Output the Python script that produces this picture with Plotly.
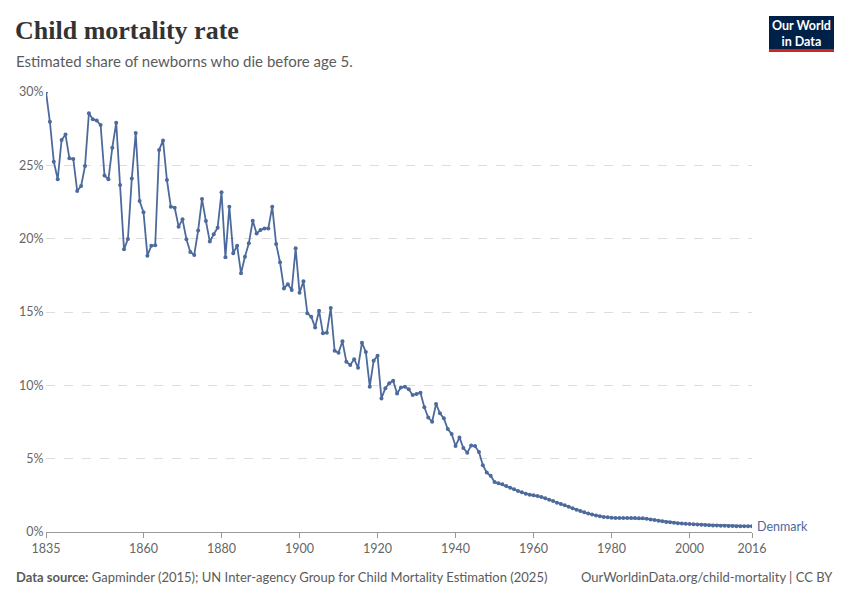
import plotly.graph_objects as go

# Denmark, share of children dying before age 5 (%), one value per year 1835-2016
years = list(range(1835, 2017))
mortality = [
    30.0, 27.97, 25.25, 24.05, 26.73, 27.1, 25.48, 25.43, 23.25, 23.59,   # 1835-1844
    24.95, 28.55, 28.14, 28.05, 27.75, 24.3, 24.05, 26.2, 27.9, 23.66,    # 1845-1854
    19.27, 19.98, 24.1, 27.2, 22.57, 21.8, 18.84, 19.52, 19.55, 26.05,    # 1855-1864
    26.7, 24.0, 22.18, 22.11, 20.82, 21.32, 19.96, 19.09, 18.89, 20.55,   # 1865-1874
    22.7, 21.2, 19.8, 20.3, 20.75, 23.16, 18.73, 22.18, 19.0, 19.52,      # 1875-1884
    17.64, 18.77, 19.68, 21.23, 20.36, 20.59, 20.7, 20.7, 22.18, 19.64,   # 1885-1894
    18.39, 16.61, 16.89, 16.5, 19.34, 16.32, 17.09, 14.91, 14.68, 13.95,  # 1895-1904
    15.09, 13.55, 13.59, 15.27, 12.36, 12.23, 13.0, 11.61, 11.39, 11.78,  # 1905-1914
    11.2, 12.91, 12.27, 9.91, 11.68, 12.02, 9.11, 9.8, 10.14, 10.32,      # 1915-1924
    9.45, 9.86, 9.91, 9.73, 9.34, 9.41, 9.5, 8.5, 7.8, 7.52,              # 1925-1934
    8.73, 8.09, 7.75, 7.02, 6.68, 5.86, 6.45, 5.73, 5.41, 5.89,           # 1935-1944
    5.86, 5.45, 4.55, 4.05, 3.84, 3.41, 3.32, 3.25, 3.14, 3.02,           # 1945-1954
    2.91, 2.8, 2.71, 2.61, 2.54, 2.5, 2.45, 2.39, 2.3, 2.2,               # 1955-1964
    2.11, 2.0, 1.91, 1.82, 1.73, 1.62, 1.52, 1.43, 1.34, 1.26,            # 1965-1974
    1.19, 1.12, 1.07, 1.03, 1.0, 0.97, 0.96, 0.95, 0.95, 0.95,            # 1975-1984
    0.95, 0.95, 0.94, 0.93, 0.9, 0.86, 0.82, 0.77, 0.73, 0.69,            # 1985-1994
    0.66, 0.63, 0.6, 0.58, 0.56, 0.55, 0.53, 0.51, 0.49, 0.47,            # 1995-2004
    0.46, 0.45, 0.44, 0.43, 0.42, 0.41, 0.41, 0.4, 0.4, 0.4,              # 2005-2014
    0.4, 0.4,                                                             # 2015-2016
]
country = "Denmark"

x_ticks = [1835, 1860, 1880, 1900, 1920, 1940, 1960, 1980, 2000, 2016]
y_ticks = [0, 5, 10, 15, 20, 25, 30]
y_labels = ["0%", "5%", "10%", "15%", "20%", "25%", "30%"]

# the page body has an 8px margin, so the figure is drawn 8px in from the corner;
# everything below is measured in window pixels and shifted by OFF
OFF = 8
W, H = 850 - OFF, 600 - OFF
L, R, T, B = 46 - OFF, 98, 92 - OFF, 68
PW, PH = W - L - R, H - T - B

LINE = "#4c6a9c"
GREY = "#5b5b5b"


def px(xp):
    return (xp - OFF - L) / PW


def py(yp):
    return (H - B - (yp - OFF)) / PH


fig = go.Figure()
fig.add_trace(go.Scatter(
    x=years, y=mortality, mode="lines+markers",
    line=dict(color=LINE, width=1.8),
    marker=dict(color=LINE, size=4),
    showlegend=False,
))

fig.update_layout(
    width=W, height=H,
    margin=dict(l=L, r=R, t=T, b=B),
    paper_bgcolor="white", plot_bgcolor="white",
    font=dict(family="Lato", color="#666"),
    xaxis=dict(
        range=[1835, 2016], tickvals=x_ticks, ticktext=[str(v) for v in x_ticks],
        showgrid=False, zeroline=False, showline=True, linecolor="#999", linewidth=1,
        ticks="outside", ticklen=5, tickcolor="#999", tickfont=dict(size=12.5, color="#666"),
    ),
    yaxis=dict(
        range=[0, 30], tickvals=y_ticks, ticktext=[t + "\u2009" for t in y_labels],
        showgrid=True, gridcolor="#dddddd", griddash="dash", gridwidth=1, automargin=False,
        zeroline=False, showline=False, ticks="", tickfont=dict(size=12.5, color="#666"),
    ),
)

ann = [
    dict(text="<b>Child mortality rate</b>", x=px(13), y=py(31), xanchor="left", yanchor="middle",
         font=dict(family="Liberation Serif", size=26, color="#333"), showarrow=False),
    dict(text="Estimated share of newborns who die before age 5.", x=px(14), y=py(61),
         xanchor="left", yanchor="middle", font=dict(size=15, color=GREY), showarrow=False),
    dict(text="<b>Data source:</b> Gapminder (2015); UN Inter-agency Group for Child Mortality Estimation (2025)",
         x=px(14), y=py(577), xanchor="left", yanchor="middle",
         font=dict(size=13, color=GREY), showarrow=False),
    dict(text="OurWorldinData.org/child-mortality | CC BY", x=px(835), y=py(577),
         xanchor="right", yanchor="middle", font=dict(size=13, color=GREY), showarrow=False),
    dict(text=country, x=px(755), y=py(526), xanchor="left", yanchor="middle",
         font=dict(size=12.5, color=LINE), showarrow=False),
    dict(text="<b>Our World<br>in Data</b>", x=px(801.5), y=py(33), xanchor="center", yanchor="middle",
         font=dict(size=12.5, color="white"), showarrow=False, align="center"),
]
for a in ann:
    a.update(xref="paper", yref="paper")
fig.update_layout(annotations=ann)

fig.add_shape(type="rect", xref="paper", yref="paper", x0=px(769), x1=px(834), y0=py(49), y1=py(16),
              fillcolor="#002147", line=dict(width=0))
fig.add_shape(type="rect", xref="paper", yref="paper", x0=px(769), x1=px(834), y0=py(52), y1=py(49),
              fillcolor="#ce261e", line=dict(width=0))

fig.write_html("out.html")
